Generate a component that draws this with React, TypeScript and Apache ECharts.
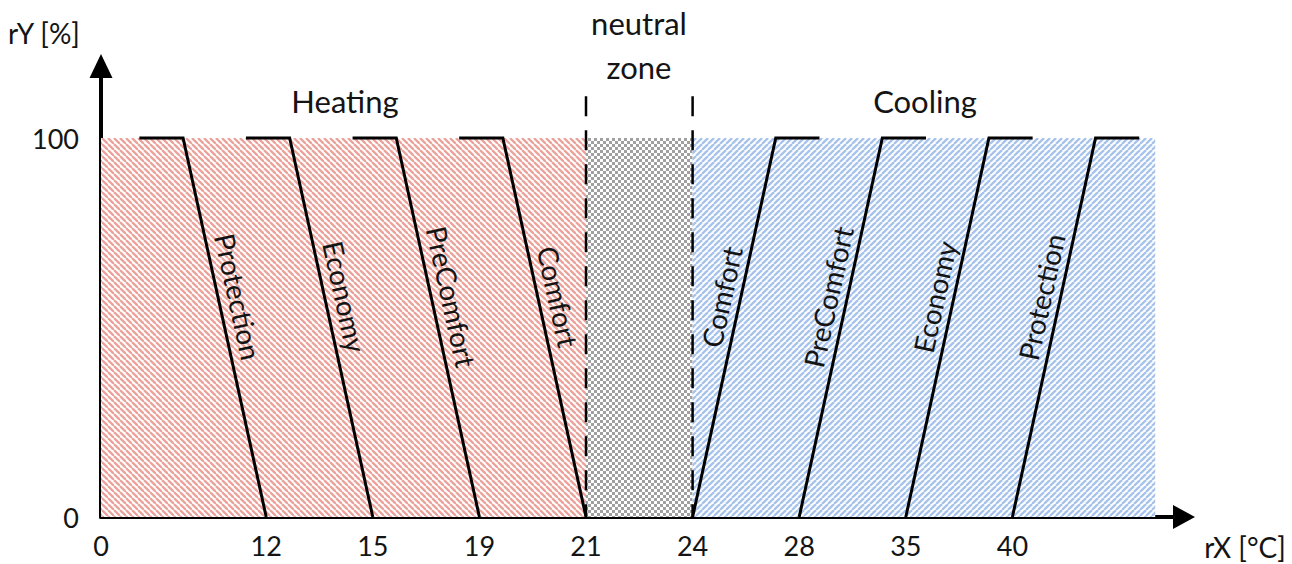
import React, { useEffect, useRef } from "react";
import * as echarts from "echarts";

// ---------- data ----------
const xTickLabels = [0, 12, 15, 19, 21, 24, 28, 35, 40];
const yTickLabels = [0, 100];
const heatingModes = ["Protection", "Economy", "PreComfort", "Comfort"];
const heatingSetpoints = [12, 15, 19, 21];
const coolingModes = ["Comfort", "PreComfort", "Economy", "Protection"];
const coolingSetpoints = [24, 28, 35, 40];
const neutralZone = [21, 24];
const yFull = 100;

// ---------- layout (schematic x axis, not to scale) ----------
const FIRST_GAP = 1.55;
const RAMP = 0.78;
const FLAT = 0.41;
const X_MAX = 10.16;
const Y_MAX = 119;
const DASH_TOP = 111;
const COOL_PAD = 0.15;
const FONT = "Lato";
const TXT = "#141414";

const slot = (t: number) => {
  const i = xTickLabels.indexOf(t);
  return i <= 0 ? 0 : i - 1 + FIRST_GAP;
};

function stripePattern(color: string, dir: "back" | "fwd") {
  const n = 6;
  const c = document.createElement("canvas");
  c.width = n;
  c.height = n;
  const g = c.getContext("2d")!;
  g.fillStyle = "#ffffff";
  g.fillRect(0, 0, n, n);
  g.strokeStyle = color;
  g.lineWidth = 2.3;
  for (let k = -1; k <= 1; k++) {
    g.beginPath();
    if (dir === "back") {
      g.moveTo(k * n, 0);
      g.lineTo(k * n + n, n);
    } else {
      g.moveTo(k * n, n);
      g.lineTo(k * n + n, 0);
    }
    g.stroke();
  }
  return { image: c.toDataURL(), repeat: "repeat", imageWidth: n, imageHeight: n };
}

function checkerPattern(color: string) {
  const n = 6;
  const h = n / 2;
  const c = document.createElement("canvas");
  c.width = n;
  c.height = n;
  const g = c.getContext("2d")!;
  g.fillStyle = "#ffffff";
  g.fillRect(0, 0, n, n);
  g.fillStyle = color;
  g.fillRect(0, 0, h, h);
  g.fillRect(h, h, h, h);
  return { image: c.toDataURL(), repeat: "repeat", imageWidth: n, imageHeight: n };
}

export default function App() {
  const ref = useRef<HTMLDivElement>(null);

  useEffect(() => {
    if (!ref.current) return;
    const chart = echarts.init(ref.current, undefined, { renderer: "svg" });

    const coolEnd =
      slot(coolingSetpoints[coolingSetpoints.length - 1]) + RAMP + FLAT + COOL_PAD;
    const zones = [
      [slot(xTickLabels[0]), slot(neutralZone[0])],
      [slot(neutralZone[0]), slot(neutralZone[1])],
      [slot(neutralZone[1]), coolEnd],
    ];
    const patterns = [
      stripePattern("#eba39b", "back"),
      checkerPattern("#a0a0a0"),
      stripePattern("#a7c3ec", "fwd"),
    ];

    const heatLines = heatingSetpoints.map((t, i) => ({
      type: "line",
      name: "H " + heatingModes[i],
      data: [
        [slot(t) - RAMP - FLAT, yFull],
        [slot(t) - RAMP, yFull],
        [slot(t), 0],
      ],
      symbol: "none",
      lineStyle: { color: "#000", width: 3, join: "miter" },
      z: 5,
      silent: true,
    }));
    const coolLines = coolingSetpoints.map((t, i) => ({
      type: "line",
      name: "C " + coolingModes[i],
      data: [
        [slot(t), 0],
        [slot(t) + RAMP, yFull],
        [slot(t) + RAMP + FLAT, yFull],
      ],
      symbol: "none",
      lineStyle: { color: "#000", width: 3, join: "miter" },
      z: 5,
      silent: true,
    }));
    const dashLines = neutralZone.map((t) => ({
      type: "line",
      data: [
        [slot(t), DASH_TOP],
        [slot(t), 0],
      ],
      symbol: "none",
      lineStyle: { color: "#000", width: 2.5, type: [20, 14] },
      z: 4,
      silent: true,
    }));

    const labelData = [
      ...heatingModes.map((m, i) => ({ name: m, value: [slot(heatingSetpoints[i]), -1] })),
      ...coolingModes.map((m, i) => ({ name: m, value: [slot(coolingSetpoints[i]), 1] })),
    ];

    const option: any = {
      animation: false,
      grid: { left: 101, right: 108, top: 66, bottom: 47, containLabel: false, outerBoundsMode: "none" },
      xAxis: {
        type: "value",
        min: 0,
        max: X_MAX,
        axisLine: {
          show: true,
          lineStyle: { color: "#000", width: 4 },
          symbol: ["none", "triangle"],
          symbolSize: [24, 22],
        },
        axisTick: { show: false },
        splitLine: { show: false },
        axisLabel: {
          customValues: xTickLabels.map(slot),
          formatter: (v: number) => {
            const i = xTickLabels.findIndex((t) => Math.abs(slot(t) - v) < 1e-6);
            return i >= 0 ? String(xTickLabels[i]) : "";
          },
          fontFamily: FONT,
          fontSize: 27,
          color: TXT,
          margin: 15,
        },
      },
      yAxis: {
        type: "value",
        min: 0,
        max: Y_MAX,
        axisLine: {
          show: true,
          lineStyle: { color: "#000", width: 4 },
          symbol: ["none", "triangle"],
          symbolSize: [23, 24],
        },
        axisTick: { show: false },
        splitLine: { show: false },
        axisLabel: {
          customValues: yTickLabels,
          fontFamily: FONT,
          fontSize: 27,
          color: TXT,
          margin: 22,
        },
      },
      graphic: [
        { type: "text", x: 8, y: 33, style: { text: "rY [%]", font: `28px ${FONT}`, fill: TXT, align: "left", verticalAlign: "middle" } },
        { type: "text", x: 345, y: 101, style: { text: "Heating", font: `31px ${FONT}`, fill: TXT, align: "center", verticalAlign: "middle" } },
        { type: "text", x: 925, y: 101, style: { text: "Cooling", font: `31px ${FONT}`, fill: TXT, align: "center", verticalAlign: "middle" } },
        { type: "text", x: 639, y: 23, style: { text: "neutral", font: `31px ${FONT}`, fill: TXT, align: "center", verticalAlign: "middle" } },
        { type: "text", x: 639, y: 67, style: { text: "zone", font: `31px ${FONT}`, fill: TXT, align: "center", verticalAlign: "middle" } },
        { type: "text", x: 1245, y: 547, style: { text: "rX [°C]", font: `28px ${FONT}`, fill: TXT, align: "center", verticalAlign: "middle" } },
      ],
      series: [
        {
          type: "custom",
          name: "zones",
          data: zones,
          z: 1,
          silent: true,
          clip: false,
          renderItem: (params: any, api: any) => {
            const p0 = api.coord([api.value(0), yFull]);
            const p1 = api.coord([api.value(1), 0]);
            return {
              type: "rect",
              shape: { x: p0[0], y: p0[1], width: p1[0] - p0[0], height: p1[1] - p0[1] },
              style: { fill: patterns[params.dataIndex] },
            };
          },
        },
        ...heatLines,
        ...coolLines,
        ...dashLines,
        {
          type: "custom",
          name: "labels",
          data: labelData,
          z: 6,
          silent: true,
          clip: false,
          renderItem: (params: any, api: any) => {
            const s = api.value(0);
            const dir = api.value(1);
            const bot = api.coord([s, 0]);
            const top = api.coord([s + dir * RAMP, yFull]);
            let vx = top[0] - bot[0];
            let vy = top[1] - bot[1];
            if (dir < 0) {
              vx = -vx;
              vy = -vy;
            }
            const len = Math.hypot(vx, vy);
            const ux = vx / len;
            const uy = vy / len;
            const f = 0.57;
            const px = bot[0] + (top[0] - bot[0]) * f;
            const py = bot[1] + (top[1] - bot[1]) * f;
            const d = dir < 0 ? 20 : 19;
            return {
              type: "text",
              x: px + uy * d,
              y: py - ux * d,
              rotation: -Math.atan2(uy, ux),
              style: {
                text: labelData[params.dataIndex].name,
                font: `28px ${FONT}`,
                fill: TXT,
                align: "center",
                verticalAlign: "middle",
              },
            };
          },
        },
      ],
    };

    chart.setOption(option);
    return () => chart.dispose();
  }, []);

  return (
    <div
      ref={ref}
      style={{ position: "absolute", left: 0, top: 0, width: 1292, height: 564, background: "#fff" }}
    />
  );
}
